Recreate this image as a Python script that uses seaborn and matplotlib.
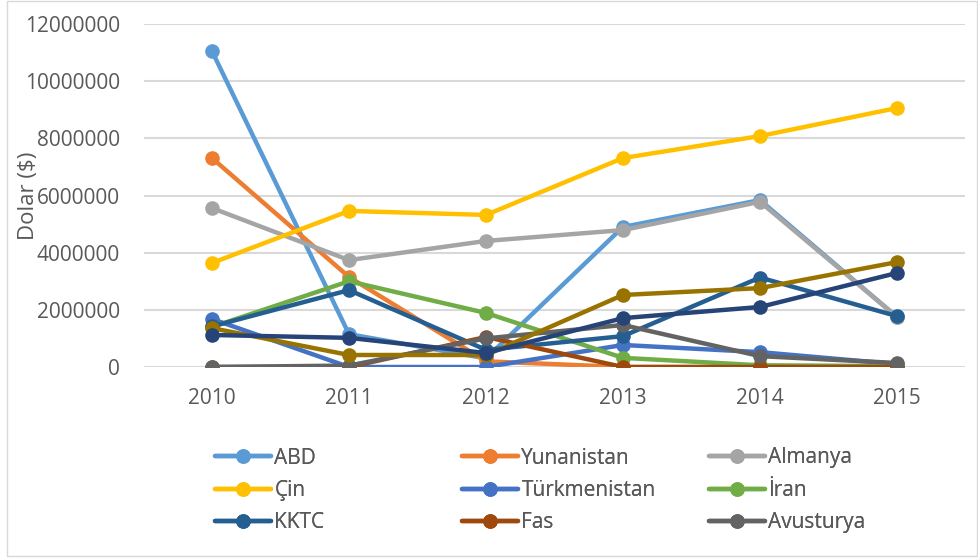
import numpy as np
import pandas as pd
import seaborn as sns
import matplotlib.pyplot as plt
from matplotlib.patches import Rectangle
from matplotlib.ticker import FuncFormatter

years = [2010, 2011, 2012, 2013, 2014, 2015]

# ihracat degerleri (dolar)
abd = [11050000, 1150000, 300000, 4900000, 5840000, 1750000]
yunanistan = [7310000, 3150000, 200000, 0, 0, 0]
almanya = [5560000, 3740000, 4410000, 4790000, 5780000, 1750000]
cin = [3640000, 5460000, 5320000, 7310000, 8080000, 9060000]
turkmenistan = [1680000, 0, 0, 770000, 520000, 100000]
iran = [1400000, 3000000, 1890000, 320000, 60000, 30000]
kktc = [1420000, 2690000, 600000, 1080000, 3130000, 1780000]
fas = [0, 0, 1050000, 0, 0, 0]
avusturya = [0, 50000, 1000000, 1470000, 380000, 140000]
seri10 = [1360000, 420000, 420000, 2520000, 2760000, 3670000]
seri11 = [1120000, 1020000, 490000, 1710000, 2100000, 3290000]

names = ['ABD', 'Yunanistan', 'Almanya', 'Çin', 'Türkmenistan', 'İran',
         'KKTC', 'Fas', 'Avusturya', 'Seri 10', 'Seri 11']
series = [abd, yunanistan, almanya, cin, turkmenistan, iran,
          kktc, fas, avusturya, seri10, seri11]
colors = ['#5B9BD5', '#ED7D31', '#A5A5A5', '#FFC000', '#4472C4', '#70AD47',
          '#255E91', '#9E480E', '#636363', '#997300', '#264478']

rows = []
for n, vals in zip(names, series):
    for yr, v in zip(years, vals):
        rows.append({'Yil': yr, 'Dolar': v, 'Ulke': n})
df = pd.DataFrame(rows)

sns.set_style('white')
plt.rcParams['font.family'] = ['Open Sans', 'DejaVu Sans']
txt = '#595959'
fs = 15

fig = plt.figure(figsize=(9.79, 5.58), dpi=100)
ax = fig.add_axes([143.5 / 979, 1 - 367 / 558, 822 / 979, 343 / 558])

sns.lineplot(data=df, x='Yil', y='Dolar', hue='Ulke', hue_order=names,
             palette=colors, marker='o', markersize=10.5, markeredgewidth=0,
             linewidth=3.2, legend=False, ax=ax)

ax.set_xlim(2009.5, 2015.5)
ax.set_ylim(0, 12000000)
ax.set_xticks(years)
ax.set_yticks(np.arange(0, 12000001, 2000000))
ax.yaxis.set_major_formatter(FuncFormatter(lambda v, p: f'{int(v)}'))
ax.grid(axis='y', color='#D9D9D9', linewidth=1.5)
ax.set_axisbelow(True)
for s in ax.spines.values():
    s.set_visible(False)
ax.tick_params(axis='both', length=0, labelsize=fs, colors=txt)
ax.tick_params(axis='y', pad=17)
ax.tick_params(axis='x', pad=15)
ax.set_xlabel('')
ax.set_ylabel('Dolar ($)', fontsize=16, color=txt)
ax.yaxis.set_label_coords(-0.127, 0.5)

# legend: 3 kolon, sadece ilk dokuz seri
lines = ax.lines[:9]
cols = [[0, 3, 6], [1, 4, 7], [2, 5, 8]]
xs = [215, 462, 709]
for c, x0 in zip(cols, xs):
    leg = fig.legend([lines[i] for i in c], [names[i] for i in c],
                     loc='upper left', bbox_to_anchor=(x0 / 979, 1 - 447.5 / 558),
                     frameon=False, fontsize=fs, labelcolor=txt,
                     handlelength=2.7, handletextpad=0.15, labelspacing=0.55,
                     borderaxespad=0, borderpad=0)
    fig.add_artist(leg)

fig.add_artist(Rectangle((7 / 979, 2 / 558), 970 / 979, 555 / 558,
                         transform=fig.transFigure, fill=False,
                         edgecolor='#D9D9D9', linewidth=1))

fig.savefig('out.png', dpi=100)
